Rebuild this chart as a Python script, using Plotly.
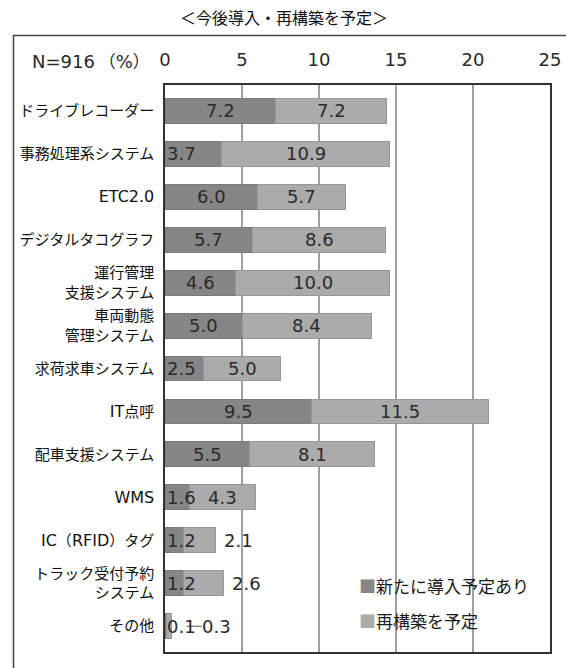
import re
import plotly.graph_objects as go

title_text = "＜今後導入・再構築を予定＞"
n_label = "N=916 （%）"
categories = [
    "ドライブレコーダー", "事務処理系システム", "ETC2.0", "デジタルタコグラフ",
    "運行管理<br>支援システム", "車両動態<br>管理システム", "求荷求車システム", "IT点呼",
    "配車支援システム", "WMS", "IC（RFID）タグ", "トラック受付予約<br>システム", "その他",
]
new_intro = [7.2, 3.7, 6.0, 5.7, 4.6, 5.0, 2.5, 9.5, 5.5, 1.6, 1.2, 1.2, 0.1]
rebuild = [7.2, 10.9, 5.7, 8.6, 10.0, 8.4, 5.0, 11.5, 8.1, 4.3, 2.1, 2.6, 0.3]
series_names = ["新たに導入予定あり", "再構築を予定"]
x_ticks = [0, 5, 10, 15, 20, 25]

DARK = "#868686"
LIGHT = "#ababab"
TXT = "#2a2a2a"
NUMFONT = "DejaVu Sans, Liberation Sans, Arial, sans-serif"
JPFONT = "Noto Sans CJK JP, sans-serif"

W, H = 566, 668
L, R, T, B = 165, 16, 85, 16
PW, PH = W - L - R, H - T - B


def px_x(px):
    return (px - L) / PW


def px_y(py):
    return (H - B - py) / PH


def latin_span(s, size=16):
    lines = s.split("<br>")
    out = [re.sub(r"([A-Za-z0-9.=%]+)",
                  rf'<span style="font-family:DejaVu Sans;font-size:{size}px">\1</span>', ln)
           for ln in lines]
    return "<br>".join(out)


tick_text = [latin_span(c) for c in categories]

fig = go.Figure()
fig.add_trace(go.Bar(
    y=categories, x=new_intro, orientation="h", name=series_names[0],
    marker=dict(color=DARK, line=dict(color="#7a7a7a", width=1)), width=0.58,
    hoverinfo="x+y",
))
fig.add_trace(go.Bar(
    y=categories, x=rebuild, orientation="h", name=series_names[1],
    marker=dict(color=LIGHT, line=dict(color="#979797", width=1)), width=0.58,
    hoverinfo="x+y",
))

annotations = []
shapes = []
for cat, a, b in zip(categories, new_intro, rebuild):
    if a >= 4:
        annotations.append(dict(x=a / 2, y=cat, xref="x", yref="y", text=f"{a:.1f}",
                                showarrow=False, xanchor="center",
                                font=dict(family=NUMFONT, size=18, color=TXT)))
    else:
        annotations.append(dict(x=0, y=cat, xref="x", yref="y", text=f"{a:.1f}",
                                showarrow=False, xanchor="left", xshift=0,
                                font=dict(family=NUMFONT, size=18, color=TXT)))
    total = a + b
    if b >= 3:
        annotations.append(dict(x=a + b / 2, y=cat, xref="x", yref="y", text=f"{b:.1f}",
                                showarrow=False, xanchor="center",
                                font=dict(family=NUMFONT, size=18, color=TXT)))
    else:
        lx = max(total + 0.4, 2.3)
        annotations.append(dict(x=lx, y=cat, xref="x", yref="y", text=f"{b:.1f}",
                                showarrow=False, xanchor="left",
                                font=dict(family=NUMFONT, size=18, color=TXT)))
        if lx - total > 1.0:
            shapes.append(dict(type="line", xref="x", yref="y", x0=total + 1.0, x1=lx + 0.1,
                               y0=cat, y1=cat, line=dict(color="#555", width=1)))

annotations.append(dict(x=px_x(284), y=px_y(17), xref="paper", yref="paper", text=title_text,
                        showarrow=False, xanchor="center", yanchor="middle",
                        font=dict(family=JPFONT, size=16, color="#111")))
annotations.append(dict(x=px_x(30), y=px_y(60), xref="paper", yref="paper",
                        text=latin_span(n_label, 18),
                        showarrow=False, xanchor="left", yanchor="middle",
                        font=dict(family=JPFONT, size=17, color=TXT)))
for i, (nm, col) in enumerate(zip(series_names, [DARK, LIGHT])):
    annotations.append(dict(x=px_x(357), y=px_y(585 + 35 * i), xref="paper", yref="paper",
                            text=f'<span style="color:{col}">■</span>{nm}',
                            showarrow=False, xanchor="left", yanchor="middle",
                            font=dict(family=JPFONT, size=17, color="#1a1a1a")))

shapes.append(dict(type="rect", xref="paper", yref="paper",
                   x0=px_x(13.5), x1=px_x(575), y0=px_y(35.5), y1=px_y(680),
                   line=dict(color="#444", width=1.5), layer="below"))

fig.update_layout(
    width=W, height=H,
    margin=dict(l=L, r=R, t=T, b=B, pad=0, autoexpand=False),
    barmode="stack", bargap=0.42,
    showlegend=False,
    plot_bgcolor="white", paper_bgcolor="white",
    annotations=annotations, shapes=shapes,
)
fig.update_xaxes(
    range=[0, 25], side="top", tickvals=x_ticks, automargin=False,
    ticks="outside", ticklen=10, tickcolor="rgba(0,0,0,0)",
    tickfont=dict(family=NUMFONT, size=18, color=TXT),
    showgrid=True, gridcolor="#a0a0a0", gridwidth=1.5, zeroline=False,
    showline=True, linecolor="#333", linewidth=1.5, mirror=True,
)
fig.update_yaxes(
    type="category", categoryorder="array", categoryarray=categories,
    tickvals=categories, ticktext=tick_text, automargin=False,
    range=[12.6, -0.6],
    ticks="outside", ticklen=6, tickcolor="rgba(0,0,0,0)",
    tickfont=dict(family=JPFONT, size=15, color="#111"),
    showgrid=False, zeroline=False,
    showline=True, linecolor="#333", linewidth=1.5, mirror=True,
)

fig.write_html("out.html")
